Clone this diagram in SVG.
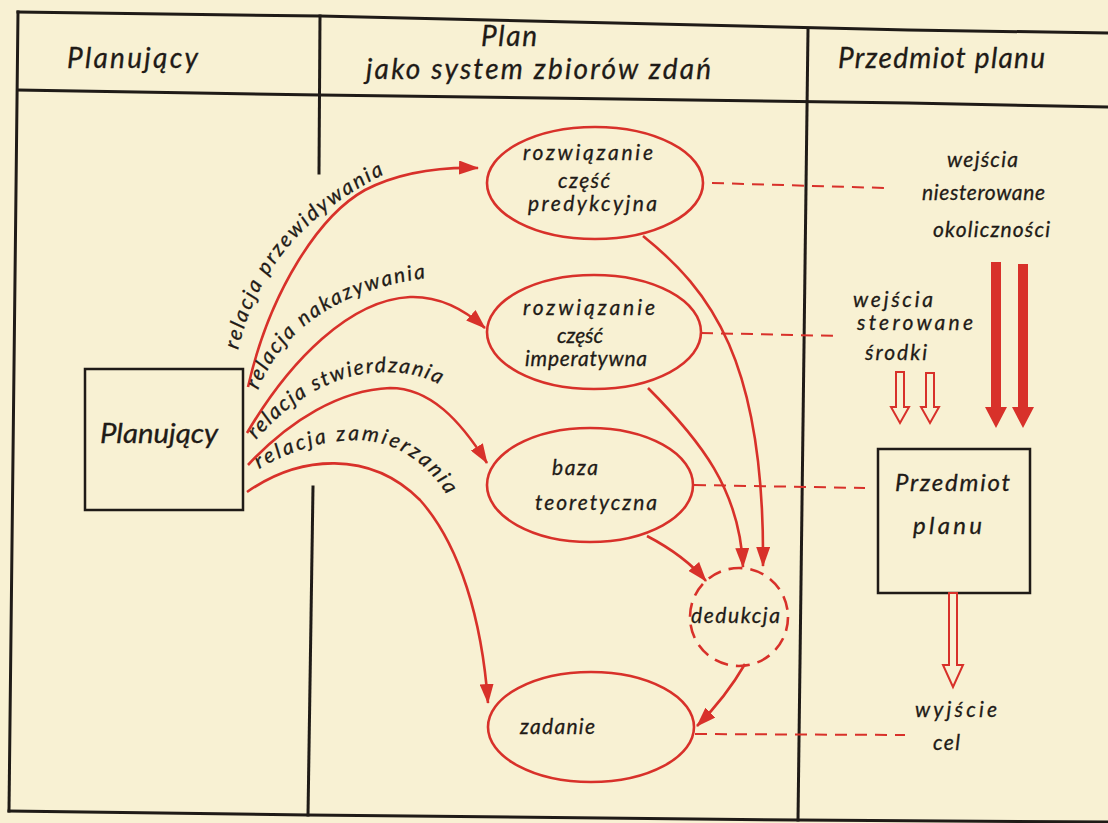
<svg xmlns="http://www.w3.org/2000/svg" width="1108" height="823" viewBox="0 0 1108 823">
<defs>
<style>
.frame{fill:none;stroke:#1f1b17;stroke-width:3;stroke-linecap:square}
.box{fill:none;stroke:#1f1b17;stroke-width:2.5}
.red{fill:none;stroke:#d8312a;stroke-width:2.6}
.dash{fill:none;stroke:#d8312a;stroke-width:2;stroke-dasharray:12 8}
.hollow{fill:#f8f1d3;stroke:#d8312a;stroke-width:2}
.solid{fill:#d8312a;stroke:none}
.t{font-family:Lato,"Noto Sans","DejaVu Sans",sans-serif;font-style:italic;fill:#1f1b17;font-size:21px;stroke:#1f1b17;stroke-width:0.3}
.h{font-size:28px}
.b{font-size:27px}
.p{font-size:24px}
</style>
<marker id="ah" markerUnits="userSpaceOnUse" markerWidth="20" markerHeight="14" refX="19" refY="7" orient="auto">
<path d="M0,0 L20,7 L0,14 z" fill="#d8312a"/>
</marker>
<path id="lp1" d="M238,350 C258,268 305,205 420,158"/>
<path id="lp2" d="M258,390 C282,330 340,285 445,276"/>
<path id="lp3" d="M256,440 C300,390 345,372 388,372 C420,373 440,382 462,400"/>
<path id="lp4" d="M259,469 C300,445 350,432 390,446 C420,458 445,482 462,525"/>
</defs>
<rect width="1108" height="823" fill="#f8f1d3"/>
<g id="frame">
<path class="frame" d="M18,12 L320,16 L908,30 L1108,33"/>
<path class="frame" d="M18,90 L320,95 L908,103 L1108,107"/>
<path class="frame" d="M9,811 L308,815 L798,820 L1108,822"/>
<path class="frame" d="M18,12 L9,811"/>
<path class="frame" d="M320,16 L319,173"/>
<path class="frame" d="M313,487 L308,815"/>
<path class="frame" d="M808,30 L798,820"/>
</g>
<g id="headers">
<text class="t h" x="67" y="68" textLength="131" lengthAdjust="spacing">Planujący</text>
<text class="t h" x="481" y="46" textLength="56" lengthAdjust="spacing">Plan</text>
<text class="t h" x="366" y="79" textLength="345" lengthAdjust="spacing">jako system zbiorów zdań</text>
<text class="t h" x="838" y="68" textLength="207" lengthAdjust="spacing">Przedmiot planu</text>
</g>
<g id="node-planujacy">
<rect class="box" x="85" y="369" width="158" height="141"/>
<text class="t b" x="100" y="443" textLength="118" lengthAdjust="spacingAndGlyphs">Planujący</text>
</g>
<g id="node-predykcyjna">
<ellipse class="red" cx="595" cy="183" rx="108" ry="56"/>
<text class="t" x="523" y="160" textLength="130" lengthAdjust="spacing">rozwiązanie</text>
<text class="t" x="558" y="188" textLength="52" lengthAdjust="spacing">część</text>
<text class="t" x="528" y="211" textLength="129" lengthAdjust="spacing">predykcyjna</text>
</g>
<g id="node-imperatywna">
<ellipse class="red" cx="594" cy="332" rx="107" ry="57"/>
<text class="t" x="523" y="315" textLength="132" lengthAdjust="spacing">rozwiązanie</text>
<text class="t" x="557" y="343" textLength="46" lengthAdjust="spacing">część</text>
<text class="t" x="525" y="366" textLength="122" lengthAdjust="spacing">imperatywna</text>
</g>
<g id="node-baza">
<ellipse class="red" cx="590" cy="485" rx="103" ry="57"/>
<text class="t" x="552" y="475" textLength="46" lengthAdjust="spacing">baza</text>
<text class="t" x="535" y="510" textLength="122" lengthAdjust="spacing">teoretyczna</text>
</g>
<g id="node-dedukcja">
<circle class="red" cx="739" cy="617" r="49" stroke-dasharray="14 8"/>
<text class="t" x="691" y="623" textLength="89" lengthAdjust="spacing">dedukcja</text>
</g>
<g id="node-zadanie">
<ellipse class="red" cx="591" cy="727" rx="103" ry="55"/>
<text class="t" x="520" y="734" textLength="75" lengthAdjust="spacing">zadanie</text>
</g>
<g id="node-przedmiot">
<rect class="box" x="878" y="449" width="152" height="144"/>
<text class="t p" x="895" y="491" textLength="115" lengthAdjust="spacing">Przedmiot</text>
<text class="t p" x="913" y="534" textLength="69" lengthAdjust="spacing">planu</text>
</g>
<g id="labels-right">
<text class="t" x="947" y="167" textLength="71" lengthAdjust="spacing">wejścia</text>
<text class="t" x="922" y="200" textLength="123" lengthAdjust="spacing">niesterowane</text>
<text class="t" x="933" y="237" textLength="117" lengthAdjust="spacing">okoliczności</text>
<text class="t" x="853" y="307" textLength="80" lengthAdjust="spacing">wejścia</text>
<text class="t" x="857" y="330" textLength="116" lengthAdjust="spacing">sterowane</text>
<text class="t" x="865" y="360" textLength="62" lengthAdjust="spacing">środki</text>
<text class="t" x="915" y="717" textLength="82" lengthAdjust="spacing">wyjście</text>
<text class="t" x="933" y="750" textLength="27" lengthAdjust="spacing">cel</text>
</g>
<g id="connectors">
<path class="red" d="M248,387 C270,290 320,215 365,190 C400,172 440,167 478,168" marker-end="url(#ah)"/>
<path class="red" d="M247,433 C290,360 350,300 410,297 C440,296 465,310 485,328" marker-end="url(#ah)"/>
<path class="red" d="M248,465 C290,420 340,390 390,388 C430,388 460,420 487,463" marker-end="url(#ah)"/>
<path class="red" d="M247,492 C300,455 370,450 420,500 C460,545 482,620 488,703" marker-end="url(#ah)"/>
<path class="red" d="M643,236 C710,290 765,360 763,566" marker-end="url(#ah)"/>
<path class="red" d="M648,388 C700,440 740,490 743,567" marker-end="url(#ah)"/>
<path class="red" d="M647,536 C670,548 690,562 706,581" stroke-width="3.5" marker-end="url(#ah)"/>
<path class="red" d="M745,664 C730,690 715,708 697,726" marker-end="url(#ah)"/>
<path class="dash" d="M712,183 L885,188"/>
<path class="dash" d="M701,333 L840,336"/>
<path class="dash" d="M694,485 L865,488"/>
<path class="dash" d="M695,734 L905,735"/>
<polygon class="hollow" points="896,372 904,372 904,407 909,407 900,423 891,407 896,407"/>
<polygon class="hollow" points="926,373 934,373 934,407 939,407 930,423 921,407 926,407"/>
<polygon class="solid" points="991,262 1001,262 1001,407 1007,407 996,428 985,407 991,407"/>
<polygon class="solid" points="1018,264 1028,264 1028,407 1034,407 1023,428 1012,407 1018,407"/>
<polygon class="hollow" points="949,593 957,593 957,665 963,665 953,687 943,665 949,665"/>
</g>
<g id="relation-labels">
<text class="t" letter-spacing="2.2"><textPath href="#lp1">relacja przewidywania</textPath></text>
<text class="t" letter-spacing="2"><textPath href="#lp2">relacja nakazywania</textPath></text>
<text class="t" letter-spacing="1.8"><textPath href="#lp3">relacja stwierdzania</textPath></text>
<text class="t" letter-spacing="2.6"><textPath href="#lp4">relacja zamierzania</textPath></text>
</g>
</svg>
